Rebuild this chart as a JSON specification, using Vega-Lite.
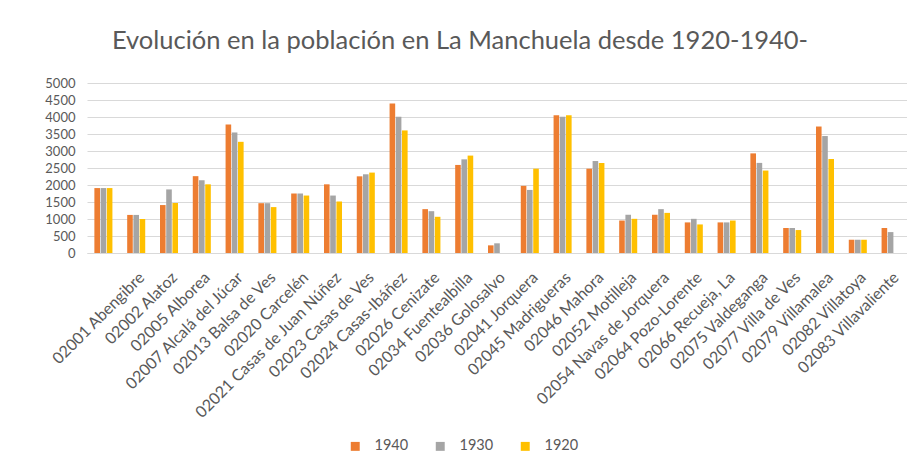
{
  "$schema": "https://vega.github.io/schema/vega-lite/v6.json",
  "width": 820,
  "height": 170,
  "autosize": {"type": "none"},
  "padding": {"left": 87, "top": 83, "right": 0, "bottom": 214},
  "background": "white",
  "config": {"view": {"stroke": null}, "font": "Lato"},
  "title": {
    "text": "Evolución en la población en La Manchuela desde 1920-1940-",
    "font": "Lato",
    "fontSize": 25.5,
    "fontWeight": "normal",
    "color": "#595959",
    "anchor": "middle",
    "offset": 23,
    "dx": -37
  },
  "data": {
    "values": [
      {"mun": " ", "year": "1940", "pop": 1910}, {"mun": " ", "year": "1930", "pop": 1910}, {"mun": " ", "year": "1920", "pop": 1910},
      {"mun": "02001 Abengibre", "year": "1940", "pop": 1120}, {"mun": "02001 Abengibre", "year": "1930", "pop": 1120}, {"mun": "02001 Abengibre", "year": "1920", "pop": 1000},
      {"mun": "02002 Alatoz", "year": "1940", "pop": 1410}, {"mun": "02002 Alatoz", "year": "1930", "pop": 1870}, {"mun": "02002 Alatoz", "year": "1920", "pop": 1470},
      {"mun": "02005 Alborea", "year": "1940", "pop": 2260}, {"mun": "02005 Alborea", "year": "1930", "pop": 2140}, {"mun": "02005 Alborea", "year": "1920", "pop": 2020},
      {"mun": "02007 Alcalá del Júcar", "year": "1940", "pop": 3780}, {"mun": "02007 Alcalá del Júcar", "year": "1930", "pop": 3545}, {"mun": "02007 Alcalá del Júcar", "year": "1920", "pop": 3270},
      {"mun": "02013 Balsa de Ves", "year": "1940", "pop": 1465}, {"mun": "02013 Balsa de Ves", "year": "1930", "pop": 1465}, {"mun": "02013 Balsa de Ves", "year": "1920", "pop": 1350},
      {"mun": "02020 Carcelén", "year": "1940", "pop": 1750}, {"mun": "02020 Carcelén", "year": "1930", "pop": 1750}, {"mun": "02020 Carcelén", "year": "1920", "pop": 1690},
      {"mun": "02021 Casas de Juan Núñez", "year": "1940", "pop": 2020}, {"mun": "02021 Casas de Juan Núñez", "year": "1930", "pop": 1690}, {"mun": "02021 Casas de Juan Núñez", "year": "1920", "pop": 1515},
      {"mun": "02023 Casas de Ves", "year": "1940", "pop": 2255}, {"mun": "02023 Casas de Ves", "year": "1930", "pop": 2315}, {"mun": "02023 Casas de Ves", "year": "1920", "pop": 2365},
      {"mun": "02024 Casas-Ibáñez", "year": "1940", "pop": 4395}, {"mun": "02024 Casas-Ibáñez", "year": "1930", "pop": 4005}, {"mun": "02024 Casas-Ibáñez", "year": "1920", "pop": 3605},
      {"mun": "02026 Cenizate", "year": "1940", "pop": 1290}, {"mun": "02026 Cenizate", "year": "1930", "pop": 1230}, {"mun": "02026 Cenizate", "year": "1920", "pop": 1065},
      {"mun": "02034 Fuentealbilla", "year": "1940", "pop": 2590}, {"mun": "02034 Fuentealbilla", "year": "1930", "pop": 2755}, {"mun": "02034 Fuentealbilla", "year": "1920", "pop": 2865},
      {"mun": "02036 Golosalvo", "year": "1940", "pop": 225}, {"mun": "02036 Golosalvo", "year": "1930", "pop": 285}, {"mun": "02036 Golosalvo", "year": "1920", "pop": 0},
      {"mun": "02041 Jorquera", "year": "1940", "pop": 1975}, {"mun": "02041 Jorquera", "year": "1930", "pop": 1855}, {"mun": "02041 Jorquera", "year": "1920", "pop": 2480},
      {"mun": "02045 Madrigueras", "year": "1940", "pop": 4055}, {"mun": "02045 Madrigueras", "year": "1930", "pop": 4005}, {"mun": "02045 Madrigueras", "year": "1920", "pop": 4055},
      {"mun": "02046 Mahora", "year": "1940", "pop": 2480}, {"mun": "02046 Mahora", "year": "1930", "pop": 2705}, {"mun": "02046 Mahora", "year": "1920", "pop": 2650},
      {"mun": "02052 Motilleja", "year": "1940", "pop": 955}, {"mun": "02052 Motilleja", "year": "1930", "pop": 1125}, {"mun": "02052 Motilleja", "year": "1920", "pop": 1005},
      {"mun": "02054 Navas de Jorquera", "year": "1940", "pop": 1125}, {"mun": "02054 Navas de Jorquera", "year": "1930", "pop": 1290}, {"mun": "02054 Navas de Jorquera", "year": "1920", "pop": 1180},
      {"mun": "02064 Pozo-Lorente", "year": "1940", "pop": 900}, {"mun": "02064 Pozo-Lorente", "year": "1930", "pop": 1005}, {"mun": "02064 Pozo-Lorente", "year": "1920", "pop": 840},
      {"mun": "02066 Recueja, La", "year": "1940", "pop": 900}, {"mun": "02066 Recueja, La", "year": "1930", "pop": 900}, {"mun": "02066 Recueja, La", "year": "1920", "pop": 955},
      {"mun": "02075 Valdeganga", "year": "1940", "pop": 2930}, {"mun": "02075 Valdeganga", "year": "1930", "pop": 2650}, {"mun": "02075 Valdeganga", "year": "1920", "pop": 2425},
      {"mun": "02077 Villa de Ves", "year": "1940", "pop": 735}, {"mun": "02077 Villa de Ves", "year": "1930", "pop": 735}, {"mun": "02077 Villa de Ves", "year": "1920", "pop": 675},
      {"mun": "02079 Villamalea", "year": "1940", "pop": 3720}, {"mun": "02079 Villamalea", "year": "1930", "pop": 3440}, {"mun": "02079 Villamalea", "year": "1920", "pop": 2765},
      {"mun": "02082 Villatoya", "year": "1940", "pop": 390}, {"mun": "02082 Villatoya", "year": "1930", "pop": 390}, {"mun": "02082 Villatoya", "year": "1920", "pop": 390},
      {"mun": "02083 Villavaliente", "year": "1940", "pop": 735}, {"mun": "02083 Villavaliente", "year": "1930", "pop": 615}, {"mun": "02083 Villavaliente", "year": "1920", "pop": 0}
    ]
  },
  "mark": {"type": "bar"},
  "encoding": {
    "x": {
      "field": "mun",
      "type": "nominal",
      "sort": null,
      "scale": {"paddingInner": 0.45, "paddingOuter": 0.225},
      "axis": {
        "title": null,
        "labelAngle": -45,
        "labelFont": "Lato",
        "labelFontSize": 16,
        "labelColor": "#595959",
        "labelPadding": 16,
        "labelLimit": 300,
        "ticks": false,
        "domainColor": "#d9d9d9",
        "labelOverlap": false
      }
    },
    "xOffset": {
      "field": "year",
      "type": "nominal",
      "sort": ["1940", "1930", "1920"],
      "scale": {"paddingInner": 0.1}
    },
    "y": {
      "field": "pop",
      "type": "quantitative",
      "scale": {"domain": [0, 5000]},
      "axis": {
        "title": null,
        "values": [0, 500, 1000, 1500, 2000, 2500, 3000, 3500, 4000, 4500, 5000],
        "format": "d",
        "domain": false,
        "ticks": false,
        "labelFont": "Lato",
        "labelFontSize": 13,
        "labelColor": "#595959",
        "labelPadding": 12,
        "gridColor": "#d9d9d9"
      }
    },
    "color": {
      "field": "year",
      "type": "nominal",
      "scale": {"domain": ["1940", "1930", "1920"], "range": ["#ED7D31", "#A5A5A5", "#FFC000"]},
      "legend": {
        "title": null,
        "orient": "none",
        "direction": "horizontal",
        "legendX": 261,
        "legendY": 356,
        "symbolType": "square",
        "symbolSize": 80,
        "symbolStrokeWidth": 0,
        "labelFont": "Lato",
        "labelFontSize": 14.5,
        "labelColor": "#595959",
        "labelOffset": 12,
        "columnPadding": 24
      }
    }
  }
}
